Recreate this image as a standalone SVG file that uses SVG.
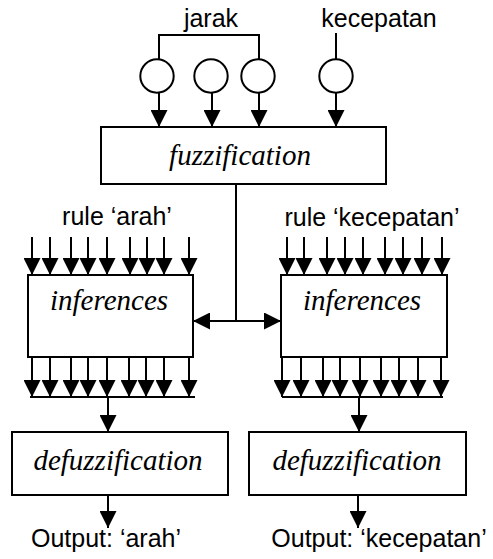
<svg xmlns="http://www.w3.org/2000/svg" width="493" height="559" viewBox="0 0 493 559">
<style>
.box{fill:#fff;stroke:#000;stroke-width:2}
.ln{fill:none;stroke:#000;stroke-width:2}
.ar{fill:none;stroke:#000;stroke-width:2;marker-end:url(#ah)}
.circ{fill:#fff;stroke:#000;stroke-width:2}
.sans{font-family:"Liberation Sans",Arial,sans-serif;font-size:25px;fill:#000;text-anchor:middle}
.ital{font-family:"Liberation Serif","Times New Roman",serif;font-style:italic;font-size:29px;fill:#000;text-anchor:middle}
</style>
<defs>
<marker id="ah" markerUnits="userSpaceOnUse" markerWidth="17" markerHeight="17" refX="17" refY="8.5" orient="auto" viewBox="0 0 17 17">
<path d="M0,0 L17,8.5 L0,17 z" fill="#000"/>
</marker>
</defs>
<g id="connectors">
<path class="ln" d="M159,59 V35 H259 V59"/>
<path class="ln" d="M336,33 V59"/>
<path class="ar" d="M159,93 V127"/>
<path class="ar" d="M212,93 V127"/>
<path class="ar" d="M259,93 V127"/>
<path class="ar" d="M336,93 V127"/>
<path class="ln" d="M236,184 V321"/>
<path class="ar" d="M236,321 H193"/>
<path class="ar" d="M236,321 H281"/>
<g id="left-rules">
<path class="ar" d="M32,237 V275"/>
<path class="ar" d="M50,237 V275"/>
<path class="ar" d="M71,237 V275"/>
<path class="ar" d="M88,237 V275"/>
<path class="ar" d="M107,237 V275"/>
<path class="ar" d="M130,237 V275"/>
<path class="ar" d="M147,237 V275"/>
<path class="ar" d="M164,237 V275"/>
<path class="ar" d="M189,237 V275"/>
</g>
<g id="left-outs">
<path class="ar" d="M32,357 V397"/>
<path class="ar" d="M50,357 V397"/>
<path class="ar" d="M71,357 V397"/>
<path class="ar" d="M88,357 V397"/>
<path class="ar" d="M107,357 V397"/>
<path class="ar" d="M129,357 V397"/>
<path class="ar" d="M146,357 V397"/>
<path class="ar" d="M164,357 V397"/>
<path class="ar" d="M189,357 V397"/>
<path class="ln" d="M30,397 H195"/>
</g>
<g id="right-rules">
<path class="ar" d="M287,237 V275"/>
<path class="ar" d="M304,237 V275"/>
<path class="ar" d="M327,237 V275"/>
<path class="ar" d="M345,237 V275"/>
<path class="ar" d="M363,237 V275"/>
<path class="ar" d="M385,237 V275"/>
<path class="ar" d="M403,237 V275"/>
<path class="ar" d="M422,237 V275"/>
<path class="ar" d="M442,237 V275"/>
</g>
<g id="right-outs">
<path class="ar" d="M282,357 V397"/>
<path class="ar" d="M301,357 V397"/>
<path class="ar" d="M323,357 V397"/>
<path class="ar" d="M340,357 V397"/>
<path class="ar" d="M360,357 V397"/>
<path class="ar" d="M381,357 V397"/>
<path class="ar" d="M399,357 V397"/>
<path class="ar" d="M418,357 V397"/>
<path class="ar" d="M441,357 V397"/>
<path class="ln" d="M282,397 H443"/>
</g>
<path class="ar" d="M108,397 V432"/>
<path class="ar" d="M359,397 V432"/>
<path class="ar" d="M108,495 V528"/>
<path class="ar" d="M358,495 V528"/>
</g>
<g id="jarak">
<text class="sans" x="211" y="27">jarak</text>
<circle class="circ" cx="157" cy="76" r="16.7"/>
<circle class="circ" cx="211" cy="76" r="16.7"/>
<circle class="circ" cx="258" cy="76" r="16.7"/>
</g>
<g id="kecepatan">
<text class="sans" x="379" y="27">kecepatan</text>
<circle class="circ" cx="336" cy="76" r="16.7"/>
</g>
<g id="fuzzification">
<rect class="box" x="101" y="127" width="285" height="57"/>
<text class="ital" x="240" y="165">fuzzification</text>
</g>
<g id="rule-arah"><text class="sans" x="117" y="225">rule ‘arah’</text></g>
<g id="rule-kecepatan"><text class="sans" x="372" y="226">rule ‘kecepatan’</text></g>
<g id="inferences-left">
<rect class="box" x="28" y="275" width="165" height="82"/>
<text class="ital" x="109" y="310">inferences</text>
</g>
<g id="inferences-right">
<rect class="box" x="281" y="275" width="166" height="82"/>
<text class="ital" x="362" y="310">inferences</text>
</g>
<g id="defuzz-left">
<rect class="box" x="12" y="432" width="216" height="63"/>
<text class="ital" x="118" y="470">defuzzification</text>
</g>
<g id="defuzz-right">
<rect class="box" x="249" y="432" width="217" height="63"/>
<text class="ital" x="357" y="470">defuzzification</text>
</g>
<g id="output-arah"><text class="sans" x="106" y="547">Output: ‘arah’</text></g>
<g id="output-kecepatan"><text class="sans" x="379" y="547">Output: ‘kecepatan’</text></g>
</svg>
